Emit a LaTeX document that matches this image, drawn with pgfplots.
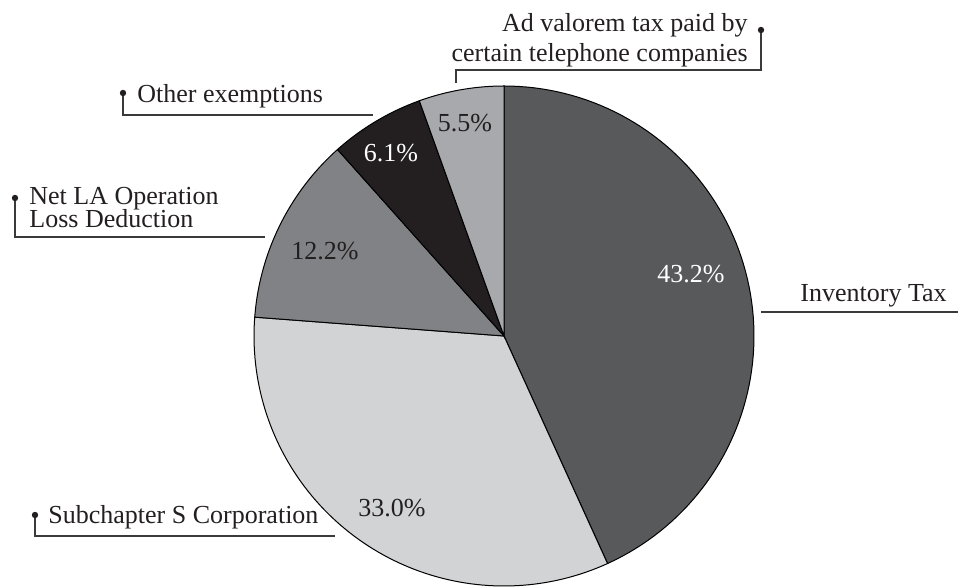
\documentclass[border=0pt]{standalone}
\usepackage{fontspec}
\setmainfont{Liberation Serif}
\usepackage{pgfplots}
\usepackage{pgfplotstable}
\pgfplotsset{compat=1.18}
\definecolor{cInv}{HTML}{58595B}
\definecolor{cSub}{HTML}{D1D3D4}
\definecolor{cNet}{HTML}{808285}
\definecolor{cOth}{HTML}{231F20}
\definecolor{cAdv}{HTML}{A7A9AC}
\definecolor{ink}{HTML}{231F20}
\definecolor{lead}{HTML}{3A3A3C}
\tikzset{lbl/.style={font=\fontsize{13}{15}\selectfont, inner sep=0pt, text=ink}}
\pgfplotstableread{
name share
Inventory 43.2
Subchapter 33.0
NetLA 12.2
Other 6.1
AdValorem 5.5
}\piedata
\begin{document}
\begin{tikzpicture}
\pgfplotstablegetelem{0}{share}\of\piedata \let\sA\pgfplotsretval
\pgfplotstablegetelem{1}{share}\of\piedata \let\sB\pgfplotsretval
\pgfplotstablegetelem{2}{share}\of\piedata \let\sC\pgfplotsretval
\pgfplotstablegetelem{3}{share}\of\piedata \let\sD\pgfplotsretval
\pgfplotstablegetelem{4}{share}\of\piedata \let\sE\pgfplotsretval
\pgfmathsetmacro\aA{90}
\pgfmathsetmacro\aB{\aA-3.6*\sA}
\pgfmathsetmacro\aC{\aB-3.6*\sB}
\pgfmathsetmacro\aD{\aC-3.6*\sC}
\pgfmathsetmacro\aE{\aD-3.6*\sD}
\pgfmathsetmacro\aF{\aE-3.6*\sE}
\begin{axis}[
  width=479pt, height=293.5pt, scale only axis,
  xmin=0, xmax=958, ymin=0, ymax=587,
  hide axis, clip=true,
]
\addplot[fill=cInv, draw=black, line width=0.5pt, domain=\aB:\aA, samples=90, variable=\t]
  ({504+250*cos(t)}, {251+250*sin(t)}) -- (axis cs:504,251) -- cycle;
\addplot[fill=cSub, draw=black, line width=0.5pt, domain=\aC:\aB, samples=90, variable=\t]
  ({504+250*cos(t)}, {251+250*sin(t)}) -- (axis cs:504,251) -- cycle;
\addplot[fill=cNet, draw=black, line width=0.5pt, domain=\aD:\aC, samples=40, variable=\t]
  ({504+250*cos(t)}, {251+250*sin(t)}) -- (axis cs:504,251) -- cycle;
\addplot[fill=cOth, draw=black, line width=0.5pt, domain=\aE:\aD, samples=30, variable=\t]
  ({504+250*cos(t)}, {251+250*sin(t)}) -- (axis cs:504,251) -- cycle;
\addplot[fill=cAdv, draw=black, line width=0.5pt, domain=\aF:\aE, samples=30, variable=\t]
  ({504+250*cos(t)}, {251+250*sin(t)}) -- (axis cs:504,251) -- cycle;

% percentage labels
\node[lbl, anchor=base, text=white] at (axis cs:691,304) {43.2\%};
\node[lbl, anchor=base] at (axis cs:392,70) {33.0\%};
\node[lbl, anchor=base] at (axis cs:325,327) {12.2\%};
\node[lbl, anchor=base, text=white] at (axis cs:391,425) {6.1\%};
\node[lbl, anchor=base] at (axis cs:465,455) {5.5\%};

% category labels
\node[lbl, anchor=base east] at (axis cs:748,555) {Ad valorem tax paid by};
\node[lbl, anchor=base east] at (axis cs:748,525) {certain telephone companies};
\node[lbl, anchor=base west] at (axis cs:137,484) {Other exemptions};
\node[lbl, anchor=base west] at (axis cs:29,382) {Net LA Operation};
\node[lbl, anchor=base west] at (axis cs:29,359) {Loss Deduction};
\node[lbl, anchor=base west] at (axis cs:48,63) {Subchapter S Corporation};
\node[lbl, anchor=base east] at (axis cs:947,285) {Inventory Tax};

% leader lines
\draw[lead, line width=0.6pt] (axis cs:761,557) -- (axis cs:761,517) -- (axis cs:456,517) -- (axis cs:456,504);
\fill[ink] (axis cs:761,557) circle[radius=1.6pt];
\draw[lead, line width=0.6pt] (axis cs:123,494) -- (axis cs:123,472) -- (axis cs:373,472);
\fill[ink] (axis cs:123,494) circle[radius=1.6pt];
\draw[lead, line width=0.6pt] (axis cs:15,389) -- (axis cs:15,350) -- (axis cs:265,350);
\fill[ink] (axis cs:15,389) circle[radius=1.6pt];
\draw[lead, line width=0.6pt] (axis cs:35,72) -- (axis cs:35,51) -- (axis cs:335,51);
\fill[ink] (axis cs:35,72) circle[radius=1.6pt];
\draw[lead, line width=0.6pt] (axis cs:761,275) -- (axis cs:958,275);
\end{axis}
\path (current axis.south west) rectangle (current axis.north east);
\end{tikzpicture}
\end{document}
